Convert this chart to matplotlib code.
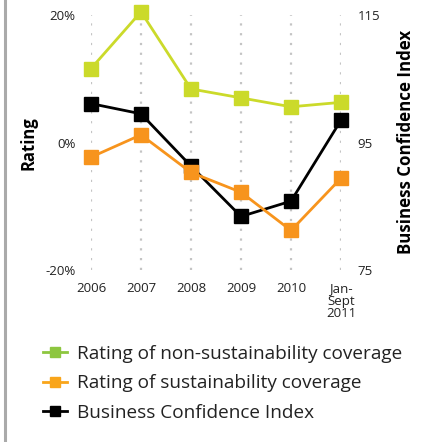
import matplotlib
matplotlib.use("Agg")
import matplotlib.pyplot as plt
from matplotlib.lines import Line2D

plt.rcParams['font.family'] = ['Open Sans', 'DejaVu Sans']
plt.rcParams['axes.unicode_minus'] = False

#chart data
years = [2006, 2007, 2008, 2009, 2010, 2011]
year_labels = ['2006', '2007', '2008', '2009', '2010', 'Jan-\nSept\n2011']
non_sustainability = [11.6, 20.5, 8.4, 7.0, 5.6, 6.3]
sustainability = [-2.3, 1.2, -4.7, -7.8, -13.8, -5.6]
business_confidence = [101.1, 99.5, 91.3, 83.4, 85.8, 98.5]

left_ticks = [-20, 0, 20]
right_ticks = [75, 95, 115]

green = '#cbda2a'
orange = '#f7941d'
legend_green = '#8dc63f'
legend_orange = '#f9a51a'
text_color = '#222222'

W, H = 425, 442
fig = plt.figure(figsize=(W / 100, H / 100), dpi=100)
ax = fig.add_axes([91 / W, 1 - 270 / H, 250 / W, 255 / H])
ax2 = ax.twinx()
ax.set_zorder(ax2.get_zorder() + 1)
ax.patch.set_visible(False)

#dotted vertical grid at each year (on the lower axes so it sits under every line)
for x in years:
    ax2.axvline(x, color='#c4c4c4', lw=1.6, linestyle=(0, (1, 3.4)), zorder=0)

ax2.plot(years, business_confidence, color='black', lw=2.0, marker='s', markersize=9.5,
         clip_on=False, zorder=3)
ax.plot(years, non_sustainability, color=green, lw=2.0, marker='s', markersize=9.5,
        clip_on=False, zorder=3)
ax.plot(years, sustainability, color=orange, lw=2.0, marker='s', markersize=9.5,
        clip_on=False, zorder=3)

ax.set_xlim(2006, 2011)
ax.set_ylim(-20, 20)
ax2.set_ylim(75, 115)

ax.set_xticks(years)
ax.set_xticklabels(year_labels, fontsize=9.5, color=text_color, linespacing=0.92)
ax.set_yticks(left_ticks)
ax.set_yticklabels([str(t) + '%' for t in left_ticks], fontsize=9.5, color=text_color)
ax2.set_yticks(right_ticks)
ax2.set_yticklabels([str(t) for t in right_ticks], fontsize=9.5, color=text_color)

ax.tick_params(axis='x', length=0, pad=9)
ax.tick_params(axis='y', length=0, pad=11)
ax2.tick_params(axis='y', length=0, pad=12)

for a in (ax, ax2):
    for s in a.spines.values():
        s.set_visible(False)

fig.text(28.5 / W, 1 - 143 / H, 'Rating', rotation=90, ha='center', va='center',
         fontsize=12, fontweight='bold', color='black')
fig.text(406 / W, 1 - 142 / H, 'Business Confidence Index', rotation=90, ha='center',
         va='center', fontsize=12.2, fontweight='bold', color='black')

#legend with its own (lighter) colours
handles = [
    Line2D([], [], color=legend_green, lw=2.0, marker='s', markersize=7),
    Line2D([], [], color=legend_orange, lw=2.0, marker='s', markersize=7),
    Line2D([], [], color='black', lw=2.0, marker='s', markersize=7),
]
labels = ['Rating of non-sustainability coverage',
          'Rating of sustainability coverage',
          'Business Confidence Index']
fig.legend(handles, labels, loc='upper left', bbox_to_anchor=(43 / W, 1 - 345 / H),
           frameon=False, fontsize=13.7, handlelength=1.25, handletextpad=0.55,
           labelspacing=0.6, borderpad=0, borderaxespad=0, labelcolor=text_color)

#grey border on the left edge
fig.add_artist(Line2D([4.5 / W, 4.5 / W], [0, 1], color='#aaaaaa', lw=2.2))

fig.savefig('out.png', dpi=100)
